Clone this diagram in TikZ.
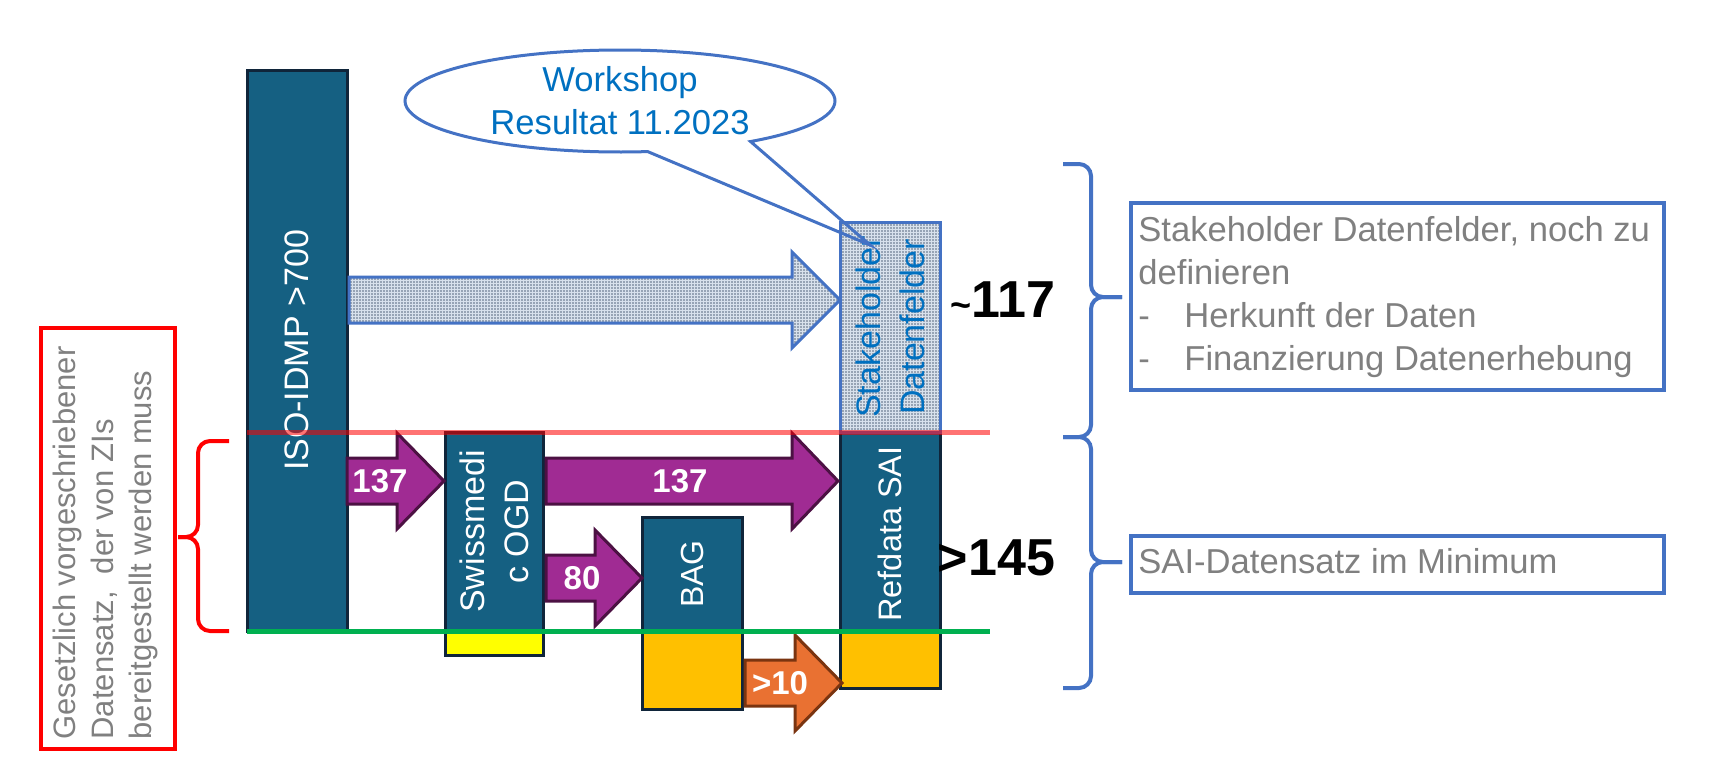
\documentclass[tikz,border=0pt]{standalone}
\usepackage{fontspec}
\setmainfont{Liberation Sans}
\usetikzlibrary{shapes.callouts,patterns.meta}

\definecolor{boxTeal}{HTML}{156082}
\definecolor{boxEdge}{HTML}{10253A}
\definecolor{arrowPurple}{HTML}{A02B93}
\definecolor{purpleEdge}{HTML}{4C1143}
\definecolor{arrowOrange}{HTML}{E97132}
\definecolor{orangeEdge}{HTML}{7A3410}
\definecolor{lineBlue}{HTML}{4472C4}
\definecolor{textBlue}{HTML}{0070C0}
\definecolor{textGrey}{HTML}{808080}
\definecolor{lineGreen}{HTML}{00B050}
\definecolor{lineRed}{HTML}{FF0000}
\definecolor{blockYellow}{HTML}{FFFF00}
\definecolor{blockGold}{HTML}{FFC000}
\definecolor{dotBack}{HTML}{D8E1EC}
\definecolor{dotFront}{HTML}{56677D}

\begin{document}
\begin{tikzpicture}
[x=0.5pt,y=-0.5pt,
  boxDecorate/.style={shape=rectangle,draw=boxEdge,fill=boxTeal,line width=1.5pt,inner sep=0pt,outer sep=0pt,anchor=north west},
  blockDecorate/.style={shape=rectangle,draw=boxEdge,line width=1.5pt,inner sep=0pt,outer sep=0pt,anchor=north west},
  dotDecorate/.style={preaction={fill=dotBack},pattern={Dots[distance=1.5pt,radius=0.45pt]},pattern color=dotFront},
  boxText/.style={text=white,rotate=90,align=center,font=\fontsize{17}{22}\selectfont},
  purpleArrow/.style={draw=purpleEdge,fill=arrowPurple,line width=1.5pt},
  orangeArrow/.style={draw=orangeEdge,fill=arrowOrange,line width=1.5pt},
  dotArrow/.style={draw=lineBlue,line width=1.5pt,dotDecorate},
  arrowText/.style={text=white,font=\fontsize{16.5}{19}\bfseries\selectfont},
  bigText/.style={anchor=base east,font=\fontsize{26}{30}\bfseries\selectfont},
  infoDecorate/.style={shape=rectangle,draw=lineBlue,line width=2pt,inner sep=0pt,outer sep=0pt,anchor=north west},
  infoText/.style={text=textGrey,inner sep=0pt,align=left,font=\fontsize{17.3}{21.5}\selectfont},
  braceDecorate/.style={line width=2pt,rounded corners=6pt}]
\useasboundingbox (0,0) rectangle (1712,777);
%% boxes
\node[boxDecorate,minimum width=50pt,minimum height=280.5pt] (iso) at (247,70) {};
\node[boxDecorate,minimum width=49pt,minimum height=99.5pt] (swiss) at (445,432) {};
\node[boxDecorate,minimum width=50pt,minimum height=57pt] (bag) at (642,517) {};
\node[boxDecorate,minimum width=50pt,minimum height=100pt] (refdata) at (840,432) {};
\node[blockDecorate,draw=lineBlue,dotDecorate,minimum width=50pt,minimum height=105pt] (stake) at (840,222) {};
\node[blockDecorate,fill=blockYellow,minimum width=49pt,minimum height=12pt] (swissYellow) at (445,631) {};
\node[blockDecorate,fill=blockGold,minimum width=50pt,minimum height=39pt] (bagGold) at (642,631) {};
\node[blockDecorate,fill=blockGold,minimum width=50pt,minimum height=28pt] (refGold) at (840,632) {};
%% box labels
\node[boxText] (isoText) at (iso.center) {ISO-IDMP >700};
\node[boxText] (swissText) at (swiss.center) {Swissmedi\\c OGD};
\node[boxText,font=\fontsize{16}{19}\selectfont] (bagText) at (bag.center) {BAG};
\node[boxText,font=\fontsize{16.25}{19}\selectfont] (refText) at ([yshift=-1pt]refdata.center) {Refdata SAI};
\node[boxText,text=textBlue] (stakeText) at (stake.center) {Stakeholder\\Datenfelder};
%% block arrows
\foreach \xs/\xh/\xt/\yc/\arrowstyle in {347/397/444/481/purpleArrow, 546/792/838/481/purpleArrow, 546/595/642/578/purpleArrow, 745/795/842/683/orangeArrow, 349/792/840/300/dotArrow}
{
  \draw[\arrowstyle] (\xs,\yc-23) -- (\xh,\yc-23) -- (\xh,\yc-48) -- (\xt,\yc) -- (\xh,\yc+48) -- (\xh,\yc+23) -- (\xs,\yc+23) -- cycle;
}
\foreach \nodename/\x/\y/\txt in {arrA/380/481/137, arrB/680/481/137, arrC/582/578/80, arrD/780/683/{>10}}
{
  \node[arrowText] (\nodename) at (\x,\y) {\txt};
}
%% limits
\draw[line width=2.5pt,draw=lineRed,draw opacity=0.55] (iso.west |- refdata.north) -- (990,432);
\draw[line width=2.5pt,draw=lineGreen] (iso.south west) -- (990,631);
%% callout
\node[ellipse callout,draw=lineBlue,line width=1.5pt,minimum width=215pt,minimum height=51pt,inner sep=0pt,
  callout absolute pointer={(870,245)},callout pointer arc=30,text=textBlue,align=center,
  font=\fontsize{17.3}{21.5}\selectfont] (workshop) at (620,101) {Workshop\\Resultat 11.2023};
%% counts
\node[bigText] (num117) at (1062,317) {{\fontsize{18}{20}\selectfont\textasciitilde}117};
\node[bigText] (num145) at (1062,575) {>145};
%% braces
\draw[braceDecorate,draw=lineBlue] (1063,164) -- (1091,164) -- (1091,297) -- (1122,297);
\draw[braceDecorate,draw=lineBlue] (1063,437) -- (1091,437) -- (1091,297) -- (1122,297);
\draw[braceDecorate,draw=lineBlue] (1063,437) -- (1091,437) -- (1091,562) -- (1122,562);
\draw[braceDecorate,draw=lineBlue] (1063,688) -- (1091,688) -- (1091,562) -- (1122,562);
\draw[braceDecorate,draw=lineRed] (229,441) -- (198,441) -- (198,537) -- (178,537);
\draw[braceDecorate,draw=lineRed] (229,631) -- (198,631) -- (198,537) -- (178,537);
%% notes
\node[infoDecorate,minimum width=266.5pt,minimum height=93.5pt] (infoA) at (1131,203) {};
\node[infoText,anchor=north west] (infoAText) at (1138,216) {Stakeholder Datenfelder, noch zu\\definieren\\\makebox[23pt][l]{-}Herkunft der Daten\\\makebox[23pt][l]{-}Finanzierung Datenerhebung};
\node[infoDecorate,minimum width=266.5pt,minimum height=28.5pt] (infoB) at (1131,536) {};
\node[infoText,anchor=base west] (infoBText) at (1138,573) {SAI-Datensatz im Minimum};
\node[infoDecorate,draw=lineRed,minimum width=67pt,minimum height=210.5pt] (lawBox) at (41,328) {};
\node[rotate=90,align=left,text=textGrey,font=\fontsize{15.5}{19}\selectfont] (lawText) at (105,543) {Gesetzlich vorgeschriebener\\Datensatz,\ \ der von ZIs\\bereitgestellt werden muss};
\end{tikzpicture}
\end{document}
